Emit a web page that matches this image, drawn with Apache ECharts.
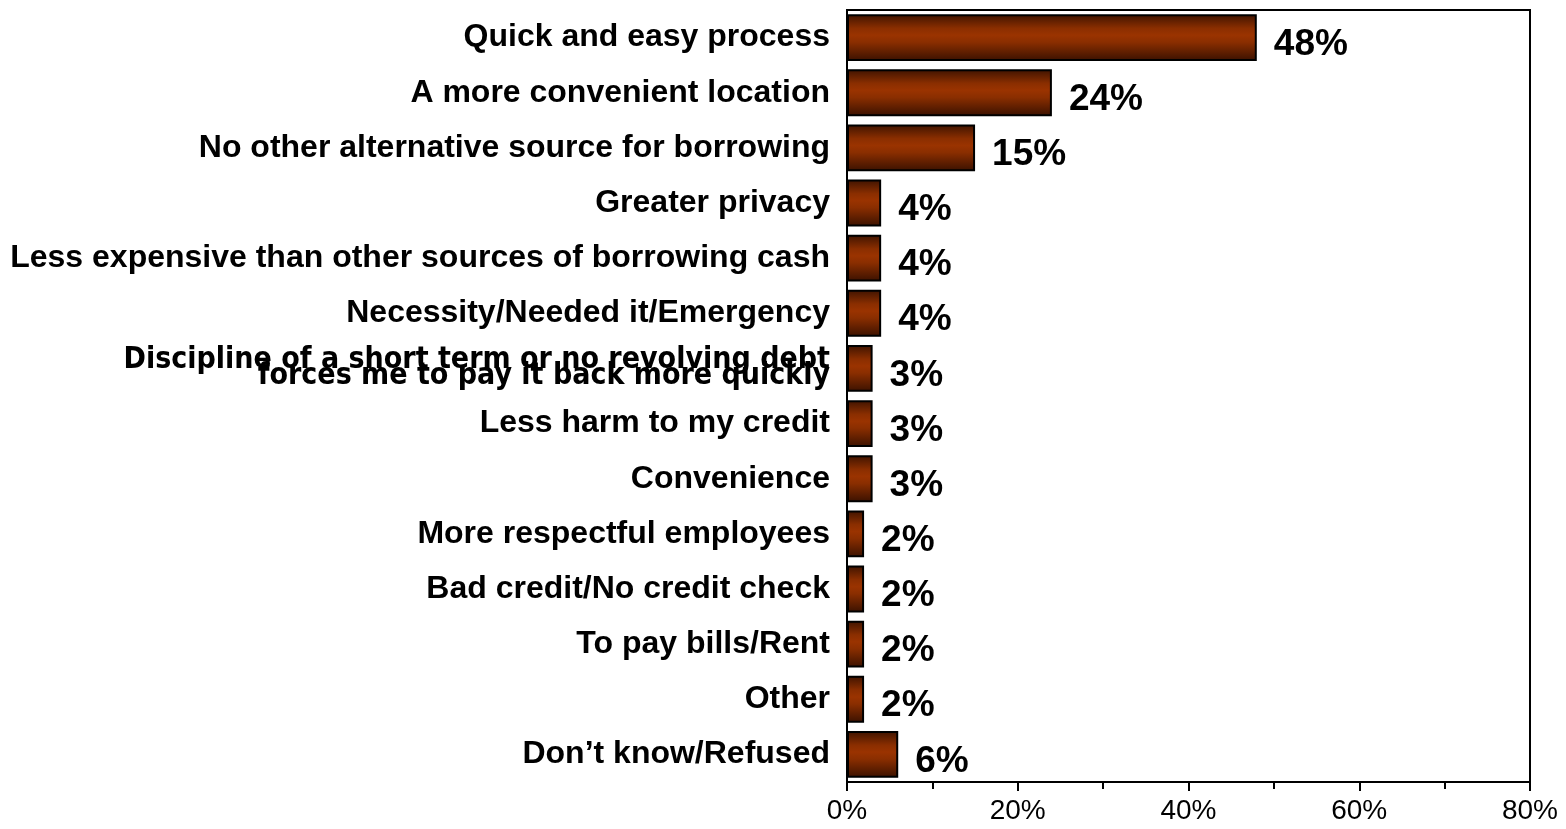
<!DOCTYPE html>
<html>
<head>
<meta charset="utf-8">
<script src="https://cdn.jsdelivr.net/npm/echarts@6/dist/echarts.min.js"></script>
<style>
  html, body { margin: 0; padding: 0; background: #ffffff; }
  #chart { width: 1566px; height: 829px; }
</style>
</head>
<body>
<div id="chart"></div>
<script>
// Reasons given for choosing this way of borrowing (share of respondents)
const categories = [
  'Quick and easy process',
  'A more convenient location',
  'No other alternative source for borrowing',
  'Greater privacy',
  'Less expensive than other sources of borrowing cash',
  'Necessity/Needed it/Emergency',
  'Discipline of a short term or no revolving debt\nforces me to pay it back more quickly',
  'Less harm to my credit',
  'Convenience',
  'More respectful employees',
  'Bad credit/No credit check',
  'To pay bills/Rent',
  'Other',
  'Don\u2019t know/Refused'
];
const shares = [48, 24, 15, 4, 4, 4, 3, 3, 3, 2, 2, 2, 2, 6];
const axisMax = 80;
const axisStep = 20;

const chart = echarts.init(document.getElementById('chart'), null, { renderer: 'canvas' });

const barFill = new echarts.graphic.LinearGradient(0, 0, 0, 1, [
  { offset: 0, color: '#3e1300' },
  { offset: 0.3, color: '#8a2e00' },
  { offset: 0.45, color: '#9a3300' },
  { offset: 0.6, color: '#8a2e00' },
  { offset: 1, color: '#3a1100' }
]);

chart.setOption({
  animation: false,
  backgroundColor: '#ffffff',
  grid: {
    left: 847, right: 36, top: 10, bottom: 47,
    show: true, borderColor: '#000000', borderWidth: 2, backgroundColor: 'transparent'
  },
  xAxis: {
    type: 'value',
    min: 0, max: axisMax, interval: axisStep,
    axisLine: { show: true, lineStyle: { color: '#000000', width: 2 } },
    axisTick: { show: true, length: 9, lineStyle: { color: '#000000', width: 2 } },
    minorTick: { show: true, splitNumber: 2, length: 7, lineStyle: { color: '#000000', width: 2 } },
    splitLine: { show: false },
    axisLabel: {
      formatter: '{value}%',
      color: '#000000',
      fontFamily: '"Liberation Sans", Arial, sans-serif',
      fontSize: 28,
      margin: 15
    }
  },
  yAxis: {
    type: 'category',
    inverse: true,
    data: categories,
    axisLine: { show: true, lineStyle: { color: '#000000', width: 2 } },
    axisTick: { show: false },
    axisLabel: {
      color: '#000000',
      fontFamily: '"Liberation Sans", Arial, sans-serif',
      fontWeight: 'bold',
      fontSize: 32,
      margin: 17,
      align: 'right',
      formatter: function (v) {
        return v.indexOf('\n') >= 0 ? '{tight|' + v.split('\n').join('}\n{tight|') + '}' : v;
      },
      rich: {
        tight: {
          fontFamily: '"DejaVu Sans Condensed", "Liberation Sans", Arial, sans-serif',
          fontWeight: 'bold',
          fontSize: 30,
          lineHeight: 16,
          color: '#000000'
        }
      }
    }
  },
  series: [{
    type: 'bar',
    data: shares,
    barWidth: '85%',
    itemStyle: { color: barFill, borderColor: '#000000', borderWidth: 2 },
    label: {
      show: true,
      position: 'right',
      distance: 17,
      offset: [0, 7],
      formatter: '{c}%',
      color: '#000000',
      fontFamily: '"Liberation Sans", Arial, sans-serif',
      fontWeight: 'bold',
      fontSize: 37
    }
  }]
});
</script>
</body>
</html>
